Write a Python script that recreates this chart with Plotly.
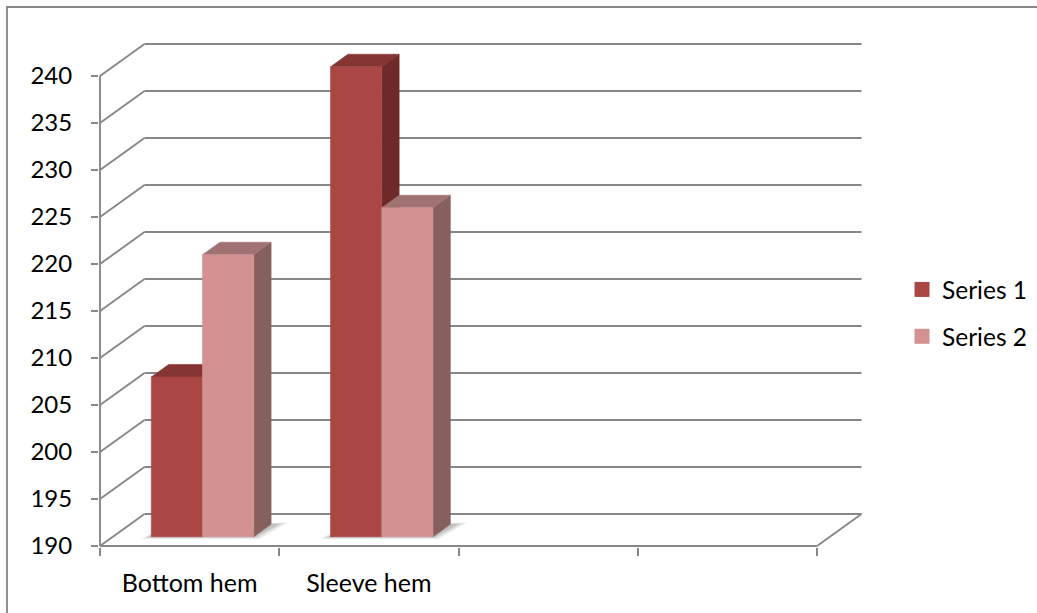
import plotly.graph_objects as go

# ---------------- data ----------------
categories = ["Bottom hem", "Sleeve hem"]
n_slots = 4
series_names = ["Series 1", "Series 2"]
series1 = [207, 240]
series2 = [220, 225]
y_ticks = [190, 195, 200, 205, 210, 215, 220, 225, 230, 235, 240]

front_colors = ["#AA4644", "#D39291"]
top_colors = ["#843534", "#A07372"]
side_colors = ["#6D2A29", "#86605F"]
grid_color = "#878787"
FONT = "Lato"

# ---------------- geometry ----------------
W, H = 1037, 613
PXX = 179.25   # px per category slot
PXY = 9.4      # px per value unit
L, R, T, B = 99, 174, 42, 66
plot_w = W - L - R
plot_h = H - T - B
XMIN = -0.5 - 1 / PXX
XMAX = XMIN + plot_w / PXX
YMIN = y_ticks[0] - 1 / PXY
YMAX = YMIN + plot_h / PXY
DX = 44.5 / PXX        # depth offset (x units)
DY = 32 / PXY          # depth offset (y units)
BW = 1 / 3.5           # bar width (gap width 150%)
F0, F1 = 0.29, 0.68    # bar depth extent (fraction of full depth)
Y0 = y_ticks[0]
XL = -0.5
XR = n_slots - 0.5

fig = go.Figure()
shapes = []

def line(x0, y0, x1, y1, w=1.9):
    shapes.append(dict(type="line", xref="x", yref="y", x0=x0, y0=y0, x1=x1, y1=y1,
                       line=dict(color=grid_color, width=w), layer="below"))

# walls / gridlines
for v in y_ticks:
    line(XL + DX, v + DY, XR + DX, v + DY)
    line(XL, v, XL + DX, v + DY)
# front axis, floor front edge, floor right edge
line(XL, Y0, XL, y_ticks[-1])
line(XL, Y0, XR, Y0)
line(XR, Y0, XR + DX, Y0 + DY)

def poly(xs, ys, color, opacity=1.0, lw=0.6):
    fig.add_trace(go.Scatter(x=xs + [xs[0]], y=ys + [ys[0]], mode="lines", fill="toself",
                             fillcolor=color, line=dict(color=color, width=lw),
                             opacity=opacity, hoverinfo="skip", showlegend=False))

series = [series1, series2]
bdx = (F1 - F0) * DX
bdy = (F1 - F0) * DY
pxu = 1 / PXX
pyu = 1 / PXY

# floor shadows (soft, layered)
for c in range(len(categories)):
    gx0 = c - BW + F0 * DX
    gx1 = c + BW + F0 * DX
    yb = Y0 + F0 * DY
    for grow, op in [(11, 0.10), (8, 0.12), (5, 0.15), (2, 0.18)]:
        xs = [gx0 - grow * pxu, gx1 + 0.5 * grow * pxu, gx1 + bdx + (grow + 6) * pxu, gx0 + bdx]
        ys = [yb - 0.22 * grow * pyu, yb - 0.22 * grow * pyu, yb + bdy + 0.15 * grow * pyu, yb + bdy]
        poly(xs, ys, "rgb(120,120,120)", op, lw=0)

# bars (3D faces)
for c in range(len(categories)):
    for i, vals in enumerate(series):
        v = vals[c]
        x0 = c - BW + i * BW + F0 * DX
        x1 = x0 + BW
        yb = Y0 + F0 * DY
        yt = v + F0 * DY
        poly([x1, x1 + bdx, x1 + bdx, x1], [yb, yb + bdy, yt + bdy, yt], side_colors[i])
        poly([x0, x1, x1 + bdx, x0 + bdx], [yt, yt, yt + bdy, yt + bdy], top_colors[i])
        poly([x0, x1, x1, x0], [yb, yb, yt, yt], front_colors[i])

# legend entries (placed on the category-label axis so that axis is drawn)
for i, name in enumerate(series_names):
    fig.add_trace(go.Scatter(x=[None], y=[None], mode="markers", name=name,
                             legendgroup=name, xaxis="x2", yaxis="y",
                             marker=dict(symbol="square", size=15, color=front_colors[i])))

# outer border
shapes.append(dict(type="rect", xref="paper", yref="paper",
                   x0=(7 - L) / plot_w, x1=(W + 10 - L) / plot_w,
                   y0=-(H + 10 - T - plot_h) / plot_h, y1=1 + (T - 7) / plot_h,
                   line=dict(color=grid_color, width=1.8), fillcolor="rgba(0,0,0,0)", layer="below"))

fig.update_layout(
    width=W, height=H,
    margin=dict(l=L, r=R, t=T, b=B, pad=0),
    paper_bgcolor="white", plot_bgcolor="white",
    font=dict(family=FONT, size=24, color="black"),
    shapes=shapes,
    showlegend=True,
    legend=dict(xref="container", yref="container", x=902 / W, y=1 - 267 / H,
                xanchor="left", yanchor="top", font=dict(size=24.5, family=FONT),
                bgcolor="rgba(0,0,0,0)", tracegroupgap=12, itemwidth=30),
    xaxis=dict(range=[XMIN, XMAX], showgrid=False, zeroline=False, showline=False,
               tickmode="array", tickvals=[k - 0.5 for k in range(n_slots + 1)],
               showticklabels=False, ticks="outside", ticklen=8, tickwidth=2,
               tickcolor=grid_color, fixedrange=True),
    xaxis2=dict(range=[XMIN, XMAX], overlaying="x", anchor="y", side="bottom",
                showgrid=False, zeroline=False, showline=False,
                tickmode="array", tickvals=list(range(len(categories))), ticktext=categories,
                ticks="", ticklabelstandoff=19, tickfont=dict(size=25, family=FONT)),
    yaxis=dict(range=[YMIN, YMAX], showgrid=False, zeroline=False, showline=False,
               tickmode="array", tickvals=y_ticks, ticks="outside", ticklen=7, tickwidth=2,
               tickcolor=grid_color, ticklabelstandoff=14, tickfont=dict(size=24, family=FONT)),
)

fig.write_html("out.html")
